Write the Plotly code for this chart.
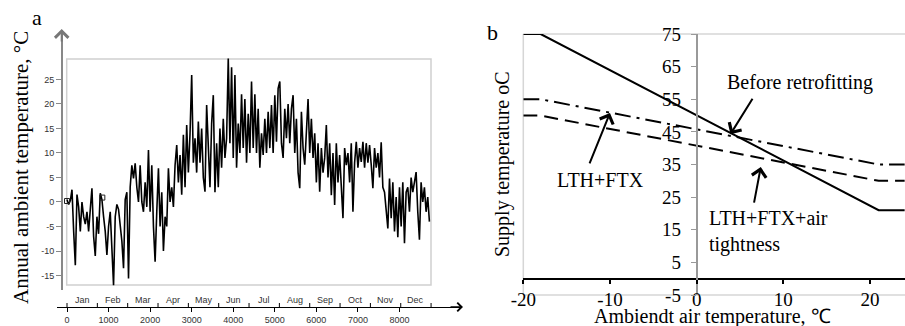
import plotly.graph_objects as go

W, H = 905, 326
SERIF = "Times New Roman, Liberation Serif, serif"
SANS = "Arial, Liberation Sans, sans-serif"

# ---------------- Panel a: annual ambient temperature ----------------
SAMPLE_STEP_H = 40  # hours between samples
temp_jan_mar = [0.5, -0.5, 0.3, 2.5, -6, -12.9, 1.5, -1, -6, 0, -3, -4.5, -2, -6, -1.5,
                2.8, -7, -11, -3, -6.5, 1.8, 0.5, -3, -6, -10.8, -5, -2, -9, -17, -3,
                -0.5, -1.5, -5, -8, -13.5, 0.5, 2, -15.6, 3, 7.5, 4.8, 7.9, 3, 0]
temp_mar_may = [7.5, 0, -2, 4, -1, 10.6, -2, 7.5, -5, -12.2, -2, 6.9, -5, 2, -10, -3, -5,
                6.9, 0, 3, -1, 7.5, 11.6, 4, 9.6, 1.5, 13.7, 3, 15.7, 6, 14, 25.9, 8, 13,
                6, 16.4, 8, 15, 5, 2.1, 19.8, 10, 3, 16, 21.8, 2]
temp_may_jul = [12, 3, 15, 7, 17, 9, 13, 29.3, 12, 27.5, 9, 25.9, 7, 16, 10, 22, 11, 21, 8,
                18, 10, 24.6, 11, 22, 10, 19, 7, 14, 9.6, 17, 10, 18.4, 11, 19.8, 10, 21.8,
                12.3, 23.2, 24.6, 12, 9, 19, 13, 20, 12]
temp_jul_sep = [19, 21.8, 10, 17, 6, 2.8, 18.4, 11, 7.6, 16, 21, 10, 17, 9, 14, 4, 12, 2.1,
                11, 6, 9, 15.7, 5, 12, 1.4, 10, -0.6, 12, 4, 9.6, 3, -3.3, 11, 7.5, 10, 4,
                12, -2, 8, 12.3, 7, 11, 8.2, 12.3, 7]
temp_sep_dec = [12, 8, 11.6, 7.6, 2.8, 11, 7, 10, 5, 12.2, 3, 2, -2.7, -5.4, 4.8, -3.3, 4,
                -6, 1, -7.2, 3, -5, 4, -8.4, 2, 3, -2, 5, 2, 4.5, 6.1, -2, -7.7, 4, 0, 3,
                -2, 1, -4]
temps = temp_jan_mar + temp_mar_may + temp_may_jul + temp_jul_sep + temp_sep_dec
hours = [i * SAMPLE_STEP_H for i in range(len(temps))]

marker_hours = [0, 850]
marker_temps = [0.2, 0.9]

hour_ticks = [0, 1000, 2000, 3000, 4000, 5000, 6000, 7000, 8000]
temp_ticks = [-15, -10, -5, 0, 5, 10, 15, 20, 25]
months = ["Jan", "Feb", "Mar", "Apr", "May", "Jun", "Jul", "Aug", "Sep", "Oct", "Nov", "Dec"]
month_bounds = [0, 730, 1460, 2190, 2920, 3650, 4380, 5110, 5840, 6570, 7300, 8030, 8760]
month_mids = [365, 1095, 1825, 2555, 3285, 4015, 4745, 5475, 6205, 6935, 7665, 8395]

# ---------------- Panel b: supply temperature curves ----------------
ambient = [-20, -18, 21, 24]
before_retro = [75, 75, 21, 21]
lth_ftx = [55, 55, 35, 35]
lth_ftx_air = [50, 50, 30, 30]
x_ticks_b = [-20, -10, 0, 10, 20]
y_ticks_b = [-5, 5, 15, 25, 35, 45, 55, 65, 75]


def px(p):
    return p / W


def py(p):
    return 1 - p / H


def hyphen_labels(vals):
    return [str(v) for v in vals]


fig = go.Figure()
fig.add_trace(go.Scatter(x=hours, y=temps, mode="lines", xaxis="x", yaxis="y",
                         line=dict(color="black", width=1.6), hoverinfo="skip"))
fig.add_trace(go.Scatter(x=marker_hours, y=marker_temps, mode="markers", xaxis="x", yaxis="y",
                         marker=dict(symbol="square-open", size=5, color="#222",
                                     line=dict(width=1)), hoverinfo="skip"))

fig.add_trace(go.Scatter(x=ambient, y=before_retro, mode="lines", xaxis="x2", yaxis="y2",
                         line=dict(color="black", width=2)))
fig.add_trace(go.Scatter(x=ambient, y=lth_ftx, mode="lines", xaxis="x2", yaxis="y2",
                         line=dict(color="black", width=2, dash="16px,6px,3px,6px")))
fig.add_trace(go.Scatter(x=ambient, y=lth_ftx_air, mode="lines", xaxis="x2", yaxis="y2",
                         line=dict(color="black", width=2, dash="14px,7px")))

shapes = [
    # frame of panel a
    dict(type="rect", xref="paper", yref="paper", x0=px(66.7), x1=px(431), y0=py(285), y1=py(59),
         line=dict(color="#d0d0d0", width=1.5), layer="below"),
    # frame of panel b (left, top, bottom)
    dict(type="line", xref="paper", yref="paper", x0=px(523.3), x1=px(523.3), y0=py(295), y1=py(34),
         line=dict(color="#d6d6d6", width=1.5), layer="below"),
    dict(type="line", xref="paper", yref="paper", x0=px(523.3), x1=1, y0=py(34), y1=py(34),
         line=dict(color="#d6d6d6", width=1.5), layer="below"),
    dict(type="line", xref="paper", yref="paper", x0=px(523.3), x1=1, y0=py(295), y1=py(295),
         line=dict(color="#d6d6d6", width=1.5), layer="below"),
]
for b in month_bounds:
    shapes.append(dict(type="line", xref="x", yref="paper", x0=b, x1=b, y0=py(307), y1=py(303),
                       line=dict(color="black", width=1)))


def label(x, y, text, size=20, family=SERIF, angle=0, xanchor="center", align="center",
          color="black"):
    return dict(x=px(x), y=py(y), xref="paper", yref="paper", text=text, showarrow=False,
                xanchor=xanchor, yanchor="middle", align=align, textangle=angle,
                font=dict(family=family, size=size, color=color))


annotations = []
for m, h in zip(months, month_mids):
    annotations.append(dict(x=h, y=py(300), xref="x", yref="paper", text=m, showarrow=False,
                            xanchor="center", yanchor="middle",
                            font=dict(family=SANS, size=9, color="#333")))

# axis arrows for panel a
annotations.append(dict(x=px(61.7), y=py(29), xref="paper", yref="paper", text="", showarrow=True,
                        ax=0, ay=14, arrowhead=4, arrowsize=1.3, arrowwidth=2, arrowcolor="#777"))
annotations.append(dict(x=px(463), y=py(307), xref="paper", yref="paper", text="", showarrow=True,
                        ax=-14, ay=0, arrowhead=4, arrowsize=1.3, arrowwidth=1.3, arrowcolor="black"))

annotations += [
    label(37, 17, "a", size=22),
    label(492, 33, "b", size=22),
    label(21, 168, "Annual ambient temperature, °C", size=21, angle=-90),
    label(502, 164, "Supply temperature oC", size=20, angle=-90),
    label(712, 316, "Ambiendt air temperature, ℃", size=20),
    # curve labels
    label(800, 83, "Before retrofitting"),
    label(600, 180, "LTH+FTX"),
    label(707, 231, "LTH+FTX+air<br>tightness", xanchor="left", align="left"),
    # arrows to curves
    dict(x=3.9, y=44.3, xref="x2", yref="y2", text="", showarrow=True, ax=23, ay=-37,
         arrowhead=4, arrowsize=1.4, arrowwidth=2, arrowcolor="black"),
    dict(x=-10, y=50.8, xref="x2", yref="y2", text="", showarrow=True, ax=-21, ay=52,
         arrowhead=4, arrowsize=1.4, arrowwidth=2, arrowcolor="black"),
    dict(x=7.4, y=34.2, xref="x2", yref="y2", text="", showarrow=True, ax=-7, ay=37,
         arrowhead=4, arrowsize=1.4, arrowwidth=2, arrowcolor="black"),
]

fig.update_layout(
    template="none",
    width=W, height=H, margin=dict(l=0, r=0, t=0, b=0, pad=0, autoexpand=False),
    paper_bgcolor="white", plot_bgcolor="rgba(0,0,0,0)", showlegend=False,
    xaxis=dict(domain=[px(56.7), px(460)], range=[-248, 9456], anchor="free", position=py(307),
               showline=True, linecolor="black", linewidth=1, ticks="outside", ticklen=4,
               tickcolor="black", tickvals=hour_ticks, ticktext=hyphen_labels(hour_ticks),
               automargin=False, tickfont=dict(family=SANS, size=9, color="#333"),
               showgrid=False, zeroline=False),
    yaxis=dict(domain=[py(290), py(30)], range=[-17.96, 35.10], anchor="free", position=px(62),
               showline=True, linecolor="#888", linewidth=2, ticks="outside", ticklen=5,
               tickcolor="#888", tickvals=temp_ticks, ticktext=hyphen_labels(temp_ticks),
               automargin=False, tickfont=dict(family=SANS, size=9, color="#333"),
               showgrid=False, zeroline=False),
    xaxis2=dict(domain=[px(523.3), 1], range=[-20, 24.04], anchor="free", position=py(278.6),
                showline=True, linecolor="black", linewidth=2, ticks="outside", ticklen=4,
                tickwidth=1.5, tickcolor="black", tickvals=x_ticks_b,
                ticktext=hyphen_labels(x_ticks_b), automargin=False,
                tickfont=dict(family=SERIF, size=19, color="black"),
                showgrid=False, zeroline=False),
    yaxis2=dict(domain=[py(295), py(34)], range=[-5, 75], anchor="free", position=px(696.7),
                showline=True, linecolor="#999", linewidth=2, ticks="outside", ticklen=5,
                tickcolor="#999", tickvals=y_ticks_b, ticktext=hyphen_labels(y_ticks_b),
                ticklabelstandoff=6, automargin=False,
                tickfont=dict(family=SERIF, size=19, color="black"),
                showgrid=False, zeroline=False),
    shapes=shapes, annotations=annotations,
)

fig.write_html("out.html")
